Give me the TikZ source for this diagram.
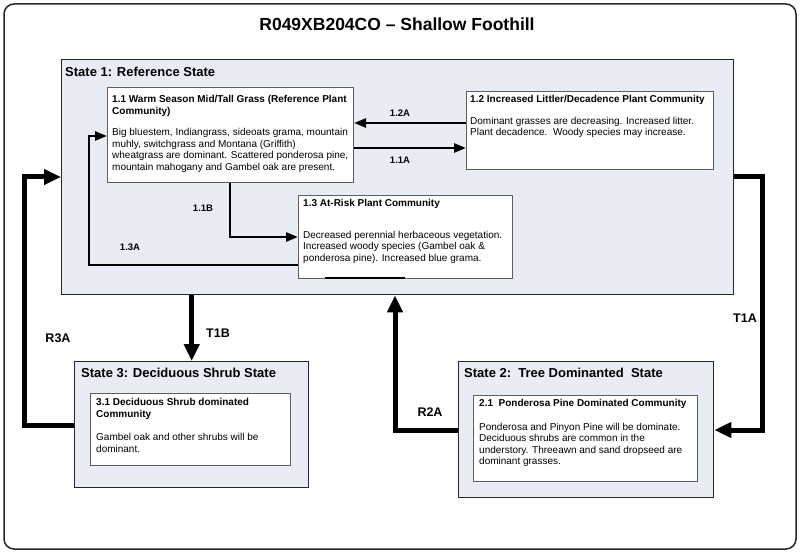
\documentclass[tikz,border=0pt]{standalone}
\usepackage{fontspec}
\setmainfont{Liberation Sans}
\usetikzlibrary{arrows.meta}
\definecolor{statefill}{RGB}{232,237,245}
\definecolor{boxline}{RGB}{95,95,95}
\begin{document}
\begin{tikzpicture}[x=1bp,y=-1bp,
  frame/.style={draw=black!85, line width=1.5bp, rounded corners=10bp},
  statebox/.style={draw=black!85, line width=1.4bp, fill=statefill, anchor=north west, inner sep=0pt},
  commbox/.style={draw=boxline, line width=1bp, fill=white, anchor=north west, inner sep=0pt},
  txt/.style={anchor=north west, inner sep=0pt, align=left, font=\fontsize{10bp}{11.6bp}\selectfont},
  statetitle/.style={anchor=west, inner sep=0pt, font=\fontsize{13bp}{15bp}\selectfont\bfseries},
  inlab/.style={inner sep=0pt, font=\fontsize{9.5bp}{11bp}\selectfont\bfseries},
  outlab/.style={inner sep=0pt, font=\fontsize{12.5bp}{14bp}\selectfont\bfseries},
  inarrow/.style={line width=2.5bp, -{Triangle[length=12bp,width=9bp]}},
  outarrow/.style={line width=5bp, -{Triangle[length=17bp,width=15bp]}}]
\useasboundingbox (0,0) rectangle (800,553);
\draw[frame] (4,4) rectangle (796,549);
\node[inner sep=0pt, font=\fontsize{17.5bp}{20bp}\selectfont\bfseries] (title) at (397,24) {R049XB204CO -- Shallow Foothill};

% State 1
\node[statebox, minimum width=672bp, minimum height=235bp] (s1) at (61,59) {};
\node[statetitle] (s1t) at (65,72) {State 1: Reference State};
\node[commbox, minimum width=246bp, minimum height=95bp] (c11) at (107,87) {};
\node[txt] (c11t) at (112,95) {\textbf{1.1 Warm Season Mid/Tall Grass (Reference Plant}\\\textbf{Community)}\\[10bp]Big bluestem, Indiangrass, sideoats grama, mountain\\muhly, switchgrass and Montana (Griffith)\\wheatgrass are dominant. Scattered ponderosa pine,\\mountain mahogany and Gambel oak are present.};
\node[commbox, minimum width=247bp, minimum height=78bp] (c12) at (466,91) {};
\node[txt] (c12t) at (470,95) {\textbf{1.2 Increased Littler/Decadence Plant Community}\\[10bp]Dominant grasses are decreasing. Increased litter.\\Plant decadence.\ \ Woody species may increase.};
\node[commbox, minimum width=214bp, minimum height=83bp] (c13) at (298,195) {};
\node[txt] (c13t) at (303,199) {\textbf{1.3 At-Risk Plant Community}\\[20bp]Decreased perennial herbaceous vegetation.\\Increased woody species (Gambel oak \&\\ponderosa pine). Increased blue grama.};
\draw[line width=1.8bp] (325,278) -- (405,278);

% State 3
\node[statebox, minimum width=234bp, minimum height=126bp] (s3) at (74,361) {};
\node[statetitle] (s3t) at (81,373) {State 3: Deciduous Shrub State};
\node[commbox, minimum width=200bp, minimum height=72bp] (c31) at (90,393) {};
\node[txt] (c31t) at (96,398) {\textbf{3.1 Deciduous Shrub dominated}\\\textbf{Community}\\[12bp]Gambel oak and other shrubs will be\\dominant.};

% State 2
\node[statebox, minimum width=255bp, minimum height=136bp] (s2) at (458,361) {};
\node[statetitle] (s2t) at (464,373) {State 2:\ \ Tree Dominanted\ \ State};
\node[commbox, minimum width=224bp, minimum height=86bp] (c21) at (473,395) {};
\node[txt] (c21t) at (479,399) {\textbf{2.1\ \ Ponderosa Pine Dominated Community}\\[12bp]Ponderosa and Pinyon Pine will be dominate.\\Deciduous shrubs are common in the\\understory. Threeawn and sand dropseed are\\dominant grasses.};

% inner transitions
\coordinate (k13) at (89,136);
\draw[inarrow] (c12.west |- 0,123) -- (c11.east |- 0,123);
\draw[inarrow] (c11.east |- 0,148) -- (c12.west |- 0,148);
\draw[inarrow] (c11.south -| 230,0) |- (c13.west |- 0,237);
\draw[inarrow] (c13.west |- 0,265) -| (k13) -- (c11.west |- k13);
\node[inlab] (l12a) at (400,113) {1.2A};
\node[inlab] (l11a) at (400,160) {1.1A};
\node[inlab] (l11b) at (203,208) {1.1B};
\node[inlab] (l13a) at (130,247) {1.3A};

% outer transitions
\coordinate (kR3) at (24,177);
\coordinate (kT1) at (762,430);
\draw[outarrow] (s3.north |- s1.south) -- (s3.north);
\draw[outarrow] (s3.west |- 0,425) -| (kR3) -- (s1.west |- kR3);
\draw[outarrow] (s2.west |- 0,430) -| (s1.south -| 395,0);
\draw[outarrow] (s1.east |- 0,177) -| (kT1) -- (s2.east |- kT1);
\node[outlab] (lt1b) at (218,333) {T1B};
\node[outlab] (lr3a) at (58,338) {R3A};
\node[outlab] (lr2a) at (430,412) {R2A};
\node[outlab] (lt1a) at (745,318) {T1A};
\end{tikzpicture}
\end{document}
